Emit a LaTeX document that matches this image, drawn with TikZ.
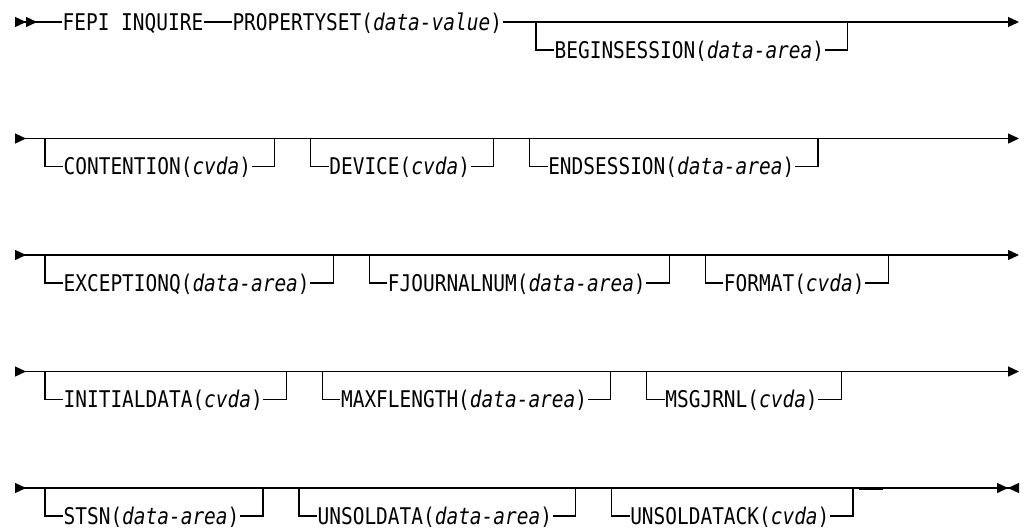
\documentclass[tikz,border=0pt]{standalone}
\usepackage{fontspec}
\setmonofont[FakeStretch=0.846]{DejaVu Sans Mono}
\usetikzlibrary{arrows.meta,positioning}

\begin{document}
\begin{tikzpicture}[x=1pt,y=1pt,line width=1.3pt,node distance=77pt,
  kw/.style={font=\fontsize{23}{26}\selectfont\ttfamily,inner sep=0pt,text height=16.8pt,text depth=0pt},
  >={Triangle[length=11pt,width=10pt,sep=0pt]}]
\useasboundingbox (0,0) rectangle (1024,-531);
% row ends
\coordinate (s1) at (15,-22);    \coordinate (e1) at (1019,-22);
\coordinate (s2) at (15,-138.5); \coordinate (e2) at (1019,-138.5);
\coordinate (s3) at (15,-255);   \coordinate (e3) at (1019,-255);
\coordinate (s4) at (15,-371.5); \coordinate (e4) at (1019,-371.5);
\coordinate (s5) at (15,-488);   \coordinate (e5) at (1019,-488);
% row 1
\node[kw,anchor=west] (fepi) at (62,-22) {FEPI INQUIRE};
\node[kw,right=28pt of fepi] (pset) {PROPERTYSET(\textit{data-value})};
\node[kw,anchor=west] (bgs) at (554,-50) {BEGINSESSION(\textit{data-area})};
\draw[>>-] (s1) -- (fepi);
\draw (fepi) -- (pset);
\draw[->] (pset) -- (e1);
% row 2
\node[kw,anchor=west] (cont) at (63,-166.5) {CONTENTION(\textit{cvda})};
\node[kw,right=of cont] (dev) {DEVICE(\textit{cvda})};
\node[kw,right=of dev] (ends) {ENDSESSION(\textit{data-area})};
\draw[>->] (s2) -- (e2);
% row 3
\node[kw,anchor=west] (excq) at (63,-283) {EXCEPTIONQ(\textit{data-area})};
\node[kw,right=of excq] (fjnl) {FJOURNALNUM(\textit{data-area})};
\node[kw,right=of fjnl] (fmt) {FORMAT(\textit{cvda})};
\draw[>->] (s3) -- (e3);
% row 4
\node[kw,anchor=west] (init) at (63,-399.5) {INITIALDATA(\textit{cvda})};
\node[kw,right=of init] (maxf) {MAXFLENGTH(\textit{data-area})};
\node[kw,right=of maxf] (msgj) {MSGJRNL(\textit{cvda})};
\draw[>->] (s4) -- (e4);
% row 5
\node[kw,anchor=west] (stsn) at (63,-516) {STSN(\textit{data-area})};
\node[kw,right=of stsn] (usol) {UNSOLDATA(\textit{data-area})};
\node[kw,right=of usol] (uack) {UNSOLDATACK(\textit{cvda})};
\draw[>-><] (s5) -- (e5);
\draw[line width=3pt] (uack.east |- s5) ++(29pt,0) -- ++(24pt,0);
% optional brackets
\foreach \n/\r in {bgs/s1,cont/s2,dev/s2,ends/s2,excq/s3,fjnl/s3,fmt/s3,
                   init/s4,maxf/s4,msgj/s4,stsn/s5,usol/s5,uack/s5}
  \draw (\n.west) -- ++(-18pt,0) coordinate (a) -- (a |- \r)
        (\n.east) -- ++(23pt,0) coordinate (b) -- (b |- \r);
\end{tikzpicture}
\end{document}
